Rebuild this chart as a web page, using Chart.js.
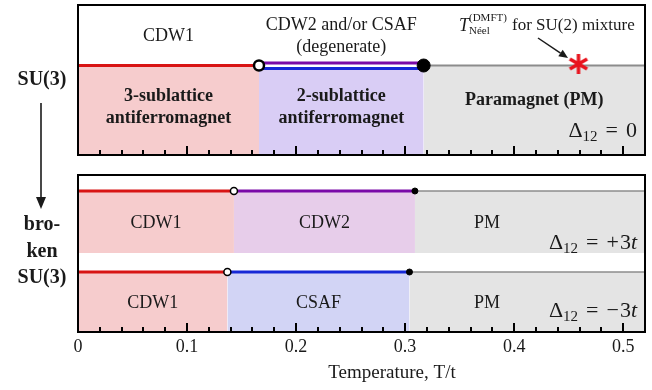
<!DOCTYPE html>
<html>
<head>
<meta charset="utf-8">
<script src="https://cdn.jsdelivr.net/npm/chart.js@4.4.0/dist/chart.umd.min.js"></script>
<style>
html, body { margin: 0; padding: 0; background: #fff; }
#wrap { width: 652px; height: 390px; }
</style>
</head>
<body>
<div id="wrap"><canvas id="phaseChart" width="652" height="390"></canvas></div>
<script>
// rows: SU(3) symmetric, broken SU(3) with Δ12 = +3t and Δ12 = -3t
const rowDelta = ['0', '+3', '−3'];
const tLow = [0.166, 0.143, 0.137];   // CDW1 -> next phase (open circle)
const tHigh = [0.317, 0.309, 0.304];  // ordered -> PM (filled dot)
const tNeelSU2 = 0.459;
const tMax = 0.52;
const majorTicks = [0, 0.1, 0.2, 0.3, 0.4, 0.5];
const midNames = ['CDW2 and/or CSAF', 'CDW2', 'CSAF'];

// layout of the hidden y axis (units = pixels above the bottom of the lower panel)
const Y_MAX = 327;
const panels = [[327, 177], [157, 0]];
const rowLine = [266.5, 141, 60];
const rowBottom = [177, 79, 0];

const serif = '"Liberation Serif", "Times New Roman", serif';
const ink = '#1a1a1a';
const col = {
    red: '#d81414', purple: '#7a0aa8', blue: '#1628d6', grey: '#8c8c8c',
    pink: 'rgba(246,204,205,1)', lav: 'rgba(217,205,245,1)', mauve: 'rgba(231,205,234,1)',
    csaf: 'rgba(210,212,245,1)', pm: 'rgba(228,228,228,1)'
};

function band(x0, x1, y, fillTo, line, fill, width) {
    return {
        data: [{ x: x0, y: y }, { x: x1, y: y }],
        borderColor: line, borderWidth: width, backgroundColor: fill,
        fill: fillTo === null ? false : { value: fillTo },
        pointRadius: 0, order: 5
    };
}
function dot(x, y, r, open, bw) {
    return {
        data: [{ x: x, y: y }], showLine: false,
        pointRadius: r, pointBorderWidth: bw,
        pointBackgroundColor: open ? '#fff' : '#000', pointBorderColor: '#000',
        order: 0
    };
}

// 6-armed red asterisk marker
const star = document.createElement('canvas');
star.width = 24; star.height = 24;
const sc = star.getContext('2d');
sc.strokeStyle = '#e8141e'; sc.lineWidth = 3.5;
for (let k = 0; k < 3; k++) {
    const a = Math.PI / 2 + k * Math.PI / 3;
    sc.beginPath();
    sc.moveTo(12 - 10 * Math.cos(a), 12 - 10 * Math.sin(a));
    sc.lineTo(12 + 10 * Math.cos(a), 12 + 10 * Math.sin(a));
    sc.stroke();
}

const datasets = [];
// SU(3) row
datasets.push(band(0, tLow[0], rowLine[0], rowBottom[0], col.red, col.pink, 3));
datasets.push(band(tLow[0], tHigh[0], rowLine[0] - 3, rowBottom[0], col.blue, col.lav, 3));
datasets.push(band(tLow[0], tHigh[0], rowLine[0] + 2.5, null, col.purple, col.lav, 3));
datasets.push(band(tHigh[0], tMax, rowLine[0], rowBottom[0], col.grey, col.pm, 2));
datasets.push(dot(tLow[0], rowLine[0], 5, true, 2.5));
datasets.push(dot(tHigh[0], rowLine[0], 6.5, false, 1));
datasets.push({ data: [{ x: tNeelSU2, y: rowLine[0] + 1.5 }], showLine: false, pointStyle: star, pointRadius: 12, order: 0 });
// broken SU(3) rows
const midLine = [null, col.purple, col.blue];
const midFill = [null, col.mauve, col.csaf];
for (let i = 1; i < 3; i++) {
    datasets.push(band(0, tLow[i], rowLine[i], rowBottom[i], col.red, col.pink, 3));
    datasets.push(band(tLow[i], tHigh[i], rowLine[i], rowBottom[i], midLine[i], midFill[i], 3));
    datasets.push(band(tHigh[i], tMax, rowLine[i], rowBottom[i], col.grey, col.pm, 1.5));
    datasets.push(dot(tLow[i], rowLine[i], 3.5, true, 1.5));
    datasets.push(dot(tHigh[i], rowLine[i], 3, false, 1));
}

function isMajor(v) {
    return majorTicks.some(m => Math.abs(m - v) < 1e-6);
}

// draws text runs [{t, f, dy} or {gap}] ending at x (align right) or starting at x
function runs(ctx, parts, x, y, align) {
    ctx.textBaseline = 'alphabetic';
    ctx.textAlign = 'left';
    const width = p => {
        if (p.gap) return p.gap;
        ctx.font = p.f;
        return ctx.measureText(p.t).width;
    };
    const total = parts.reduce((s, p) => s + width(p), 0);
    let cx = align === 'right' ? x - total : x;
    parts.forEach(p => {
        const w = width(p);
        if (!p.gap) ctx.fillText(p.t, cx, y + (p.dy || 0));
        cx += w;
    });
}

function arrow(ctx, x0, y0, x1, y1, head, halfW) {
    const a = Math.atan2(y1 - y0, x1 - x0);
    const bx = x1 - head * Math.cos(a), by = y1 - head * Math.sin(a);
    ctx.beginPath();
    ctx.moveTo(x0, y0); ctx.lineTo(bx, by); ctx.stroke();
    ctx.beginPath();
    ctx.moveTo(x1, y1);
    ctx.lineTo(bx + halfW * Math.sin(a), by - halfW * Math.cos(a));
    ctx.lineTo(bx - halfW * Math.sin(a), by + halfW * Math.cos(a));
    ctx.closePath(); ctx.fill();
}

const decor = {
    id: 'decor',
    afterDraw(chart) {
        const ctx = chart.ctx, xs = chart.scales.x, ys = chart.scales.y;
        const px = v => xs.getPixelForValue(v);
        const mid = (a, b) => (px(a) + px(b)) / 2;
        ctx.save();

        // panel frames
        ctx.strokeStyle = '#000';
        ctx.lineWidth = 2;
        panels.forEach(p => {
            const y0 = ys.getPixelForValue(p[0]), y1 = ys.getPixelForValue(p[1]);
            ctx.strokeRect(xs.left, y0, xs.right - xs.left, y1 - y0);
        });
        // inward tick marks at the bottom of each panel
        const ticks = xs.getTicks();
        ctx.fillStyle = '#000';
        panels.forEach(p => {
            const yb = ys.getPixelForValue(p[1]);
            ticks.forEach(t => {
                const tx = Math.round(px(t.value));
                const len = isMajor(t.value) ? 9 : 5;
                ctx.fillRect(tx - 1, yb - len, 2, len);
            });
        });

        ctx.fillStyle = ink; ctx.strokeStyle = ink;
        ctx.textAlign = 'center'; ctx.textBaseline = 'middle';

        const reg = '18px ' + serif, bold = 'bold 18px ' + serif;
        // top panel
        ctx.font = reg;
        ctx.fillText('CDW1', mid(0, tLow[0]), 36);
        ctx.fillText(midNames[0], mid(tLow[0], tHigh[0]), 25);
        ctx.fillText('(degenerate)', mid(tLow[0], tHigh[0]), 47);
        ctx.font = bold;
        ctx.fillText('3-sublattice', mid(0, tLow[0]), 96);
        ctx.fillText('antiferromagnet', mid(0, tLow[0]), 118);
        ctx.fillText('2-sublattice', mid(tLow[0], tHigh[0]), 96);
        ctx.fillText('antiferromagnet', mid(tLow[0], tHigh[0]), 118);
        ctx.fillText('Paramagnet (PM)', mid(tHigh[0], tMax), 100);

        // T_Neel label + arrow to the star
        ctx.font = 'italic 18px ' + serif;
        ctx.textAlign = 'left'; ctx.textBaseline = 'alphabetic';
        ctx.fillText('T', 459, 31);
        const tw = ctx.measureText('T').width;
        ctx.font = '11px ' + serif;
        ctx.fillText('(DMFT)', 459 + tw, 21);
        ctx.fillText('Néel', 459 + tw, 34);
        ctx.font = '17px ' + serif;
        ctx.fillText('for SU(2) mixture', 512, 30);
        ctx.lineWidth = 1.5;
        arrow(ctx, 538, 38, 568, 58, 9, 4);

        // Δ12 labels
        const dY = [137, 249, 317];
        const big = '22px ' + serif;
        rowDelta.forEach((d, i) => {
            const parts = [
                { t: 'Δ', f: big },
                { t: '12', f: '15px ' + serif, dy: 4 },
                { gap: 8 }, { t: '=', f: big }, { gap: 8 }
            ];
            if (d === '0') {
                parts.push({ t: '0', f: big });
            } else {
                parts.push({ t: d[0], f: big }, { gap: 1 }, { t: d.slice(1), f: big });
                parts.push({ t: 't', f: 'italic ' + big });
            }
            runs(ctx, parts, 637, dY[i], 'right');
        });

        // lower panel labels
        ctx.textAlign = 'center'; ctx.textBaseline = 'middle';
        ctx.font = reg;
        const rowY = [0, 223, 303];
        for (let i = 1; i < 3; i++) {
            ctx.fillText('CDW1', mid(0, tLow[i]), rowY[i]);
            ctx.fillText(midNames[i], mid(tLow[i], tHigh[i]), rowY[i]);
            ctx.fillText('PM', px(0.375), rowY[i]);
        }

        // left-hand labels
        ctx.font = 'bold 20px ' + serif;
        ctx.fillText('SU(3)', 42, 80);
        ctx.fillText('bro-', 42, 225);
        ctx.fillText('ken', 42, 252);
        ctx.fillText('SU(3)', 42, 278);
        ctx.lineWidth = 1.6;
        arrow(ctx, 41, 103, 41, 209, 12, 5);

        // axis title
        ctx.font = '19px ' + serif;
        ctx.fillText('Temperature, T/t', 392, 373);
        ctx.restore();
    }
};

new Chart(document.getElementById('phaseChart'), {
    type: 'line',
    data: { datasets: datasets },
    options: {
        responsive: false,
        animation: false,
        devicePixelRatio: 1,
        layout: { autoPadding: false, padding: { left: 78, right: 7, top: 5, bottom: 0 } },
        plugins: { legend: { display: false }, tooltip: { enabled: false } },
        scales: {
            x: {
                type: 'linear', min: 0, max: tMax,
                grid: { display: false, drawTicks: false },
                border: { display: false },
                afterFit: s => { s.height = 58; },
                ticks: {
                    stepSize: 0.02, autoSkip: false, maxRotation: 0, minRotation: 0,
                    padding: 4, color: ink,
                    font: { family: serif, size: 18 },
                    callback: v => isMajor(v) ? (Math.abs(v) < 1e-9 ? '0' : v.toFixed(1)) : ''
                }
            },
            y: { type: 'linear', min: 0, max: Y_MAX, display: false }
        }
    },
    plugins: [decor]
});
</script>
</body>
</html>
